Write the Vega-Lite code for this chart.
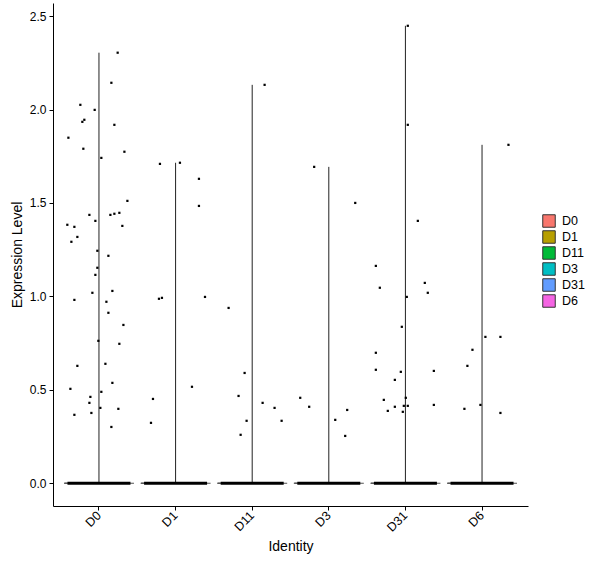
{
  "$schema": "https://vega.github.io/schema/vega-lite/v6.json",
  "width": 475,
  "height": 503,
  "autosize": {"type": "none"},
  "padding": {"left": 53, "top": 3, "right": 72, "bottom": 62},
  "background": "white",
  "config": {
    "font": "Liberation Sans",
    "view": {"stroke": null},
    "axis": {
      "grid": false,
      "domainColor": "black",
      "domainWidth": 1,
      "tickColor": "black",
      "tickSize": 4,
      "labelColor": "black",
      "labelFontSize": 12,
      "titleColor": "black",
      "titleFontSize": 14,
      "titleFontWeight": "normal"
    }
  },
  "datasets": {
    "idents": [
      {"ident": "D0"}, {"ident": "D1"}, {"ident": "D11"},
      {"ident": "D3"}, {"ident": "D31"}, {"ident": "D6"}
    ],
    "cells": [
      {"ident": "D0", "value": 2.304, "jit": 0.244},
      {"ident": "D0", "value": 2.143, "jit": 0.162},
      {"ident": "D0", "value": 2.025, "jit": -0.243},
      {"ident": "D0", "value": 1.998, "jit": -0.056},
      {"ident": "D0", "value": 1.945, "jit": -0.191},
      {"ident": "D0", "value": 1.934, "jit": -0.217},
      {"ident": "D0", "value": 1.918, "jit": 0.201},
      {"ident": "D0", "value": 1.849, "jit": -0.399},
      {"ident": "D0", "value": 1.790, "jit": -0.204},
      {"ident": "D0", "value": 1.774, "jit": 0.332},
      {"ident": "D0", "value": 1.741, "jit": 0.031},
      {"ident": "D0", "value": 1.511, "jit": 0.371},
      {"ident": "D0", "value": 1.436, "jit": -0.125},
      {"ident": "D0", "value": 1.436, "jit": 0.149},
      {"ident": "D0", "value": 1.442, "jit": 0.201},
      {"ident": "D0", "value": 1.447, "jit": 0.266},
      {"ident": "D0", "value": 1.404, "jit": -0.047},
      {"ident": "D0", "value": 1.383, "jit": -0.413},
      {"ident": "D0", "value": 1.372, "jit": -0.321},
      {"ident": "D0", "value": 1.377, "jit": 0.305},
      {"ident": "D0", "value": 1.318, "jit": -0.282},
      {"ident": "D0", "value": 1.292, "jit": -0.360},
      {"ident": "D0", "value": 1.244, "jit": -0.021},
      {"ident": "D0", "value": 1.217, "jit": 0.123},
      {"ident": "D0", "value": 1.153, "jit": -0.021},
      {"ident": "D0", "value": 1.115, "jit": -0.047},
      {"ident": "D0", "value": 1.019, "jit": -0.086},
      {"ident": "D0", "value": 1.029, "jit": 0.175},
      {"ident": "D0", "value": 0.981, "jit": -0.321},
      {"ident": "D0", "value": 0.971, "jit": 0.097},
      {"ident": "D0", "value": 0.912, "jit": 0.123},
      {"ident": "D0", "value": 0.847, "jit": 0.319},
      {"ident": "D0", "value": 0.762, "jit": -0.008},
      {"ident": "D0", "value": 0.746, "jit": 0.266},
      {"ident": "D0", "value": 0.628, "jit": -0.282},
      {"ident": "D0", "value": 0.639, "jit": 0.084},
      {"ident": "D0", "value": 0.505, "jit": -0.373},
      {"ident": "D0", "value": 0.537, "jit": 0.175},
      {"ident": "D0", "value": 0.462, "jit": -0.112},
      {"ident": "D0", "value": 0.489, "jit": 0.031},
      {"ident": "D0", "value": 0.430, "jit": -0.125},
      {"ident": "D0", "value": 0.403, "jit": 0.018},
      {"ident": "D0", "value": 0.398, "jit": 0.253},
      {"ident": "D0", "value": 0.366, "jit": -0.321},
      {"ident": "D0", "value": 0.376, "jit": -0.099},
      {"ident": "D0", "value": 0.301, "jit": 0.162},
      {"ident": "D1", "value": 1.709, "jit": -0.204},
      {"ident": "D1", "value": 1.715, "jit": 0.057},
      {"ident": "D1", "value": 1.629, "jit": 0.305},
      {"ident": "D1", "value": 1.484, "jit": 0.305},
      {"ident": "D1", "value": 0.987, "jit": -0.217},
      {"ident": "D1", "value": 0.992, "jit": -0.178},
      {"ident": "D1", "value": 0.997, "jit": 0.384},
      {"ident": "D1", "value": 0.516, "jit": 0.214},
      {"ident": "D1", "value": 0.451, "jit": -0.295},
      {"ident": "D1", "value": 0.323, "jit": -0.321},
      {"ident": "D11", "value": 2.132, "jit": 0.162},
      {"ident": "D11", "value": 0.938, "jit": -0.308},
      {"ident": "D11", "value": 0.590, "jit": -0.099},
      {"ident": "D11", "value": 0.467, "jit": -0.178},
      {"ident": "D11", "value": 0.334, "jit": -0.073},
      {"ident": "D11", "value": 0.259, "jit": -0.151},
      {"ident": "D11", "value": 0.430, "jit": 0.136},
      {"ident": "D11", "value": 0.403, "jit": 0.292},
      {"ident": "D11", "value": 0.334, "jit": 0.384},
      {"ident": "D3", "value": 1.693, "jit": -0.191},
      {"ident": "D3", "value": 1.500, "jit": 0.345},
      {"ident": "D3", "value": 0.457, "jit": -0.373},
      {"ident": "D3", "value": 0.409, "jit": -0.256},
      {"ident": "D3", "value": 0.339, "jit": 0.084},
      {"ident": "D3", "value": 0.392, "jit": 0.240},
      {"ident": "D3", "value": 0.253, "jit": 0.214},
      {"ident": "D31", "value": 2.448, "jit": 0.031},
      {"ident": "D31", "value": 1.918, "jit": 0.031},
      {"ident": "D31", "value": 1.404, "jit": 0.162},
      {"ident": "D31", "value": 1.163, "jit": -0.386},
      {"ident": "D31", "value": 1.046, "jit": -0.334},
      {"ident": "D31", "value": 1.072, "jit": 0.253},
      {"ident": "D31", "value": 1.019, "jit": 0.292},
      {"ident": "D31", "value": 0.997, "jit": 0.018},
      {"ident": "D31", "value": 0.837, "jit": -0.047},
      {"ident": "D31", "value": 0.698, "jit": -0.386},
      {"ident": "D31", "value": 0.607, "jit": -0.386},
      {"ident": "D31", "value": 0.596, "jit": -0.060},
      {"ident": "D31", "value": 0.601, "jit": 0.371},
      {"ident": "D31", "value": 0.553, "jit": -0.138},
      {"ident": "D31", "value": 0.446, "jit": -0.282},
      {"ident": "D31", "value": 0.457, "jit": 0.005},
      {"ident": "D31", "value": 0.409, "jit": -0.138},
      {"ident": "D31", "value": 0.414, "jit": -0.021},
      {"ident": "D31", "value": 0.414, "jit": 0.031},
      {"ident": "D31", "value": 0.387, "jit": -0.230},
      {"ident": "D31", "value": 0.382, "jit": -0.034},
      {"ident": "D31", "value": 0.419, "jit": 0.371},
      {"ident": "D6", "value": 1.811, "jit": 0.345},
      {"ident": "D6", "value": 0.783, "jit": 0.044},
      {"ident": "D6", "value": 0.783, "jit": 0.240},
      {"ident": "D6", "value": 0.714, "jit": -0.125},
      {"ident": "D6", "value": 0.628, "jit": -0.191},
      {"ident": "D6", "value": 0.398, "jit": -0.230},
      {"ident": "D6", "value": 0.419, "jit": -0.021},
      {"ident": "D6", "value": 0.376, "jit": 0.240}
    ]
  },
  "encoding": {
    "x": {
      "field": "ident",
      "type": "nominal",
      "sort": ["D0", "D1", "D11", "D3", "D31", "D6"],
      "scale": {"type": "band", "paddingInner": 0, "paddingOuter": 0.1},
      "title": "Identity",
      "axis": {
        "labelAngle": -45,
        "labelAlign": "right",
        "labelBaseline": "middle",
        "labelFontSize": 12.5,
        "labelPadding": 3,
        "titlePadding": 6
      }
    }
  },
  "layer": [
    {
      "data": {"name": "idents"},
      "mark": {"type": "bar", "width": {"band": 0.9}, "stroke": "#444444", "strokeWidth": 0.8},
      "encoding": {
        "y": {
          "datum": 0,
          "type": "quantitative",
          "scale": {"domain": [-0.122, 2.57], "nice": false, "zero": false},
          "title": "Expression Level",
          "axis": {"values": [0, 0.5, 1, 1.5, 2, 2.5], "format": ".1f", "labelPadding": 3, "titlePadding": 5}
        },
        "y2": {"datum": 0},
        "color": {
          "field": "ident",
          "type": "nominal",
          "scale": {
            "domain": ["D0", "D1", "D11", "D3", "D31", "D6"],
            "range": ["#F8766D", "#B79F00", "#00BA38", "#00BFC4", "#619CFF", "#F564E3"]
          },
          "legend": {
            "title": null,
            "orient": "none",
            "legendX": 489,
            "legendY": 211,
            "symbolType": "square",
            "symbolSize": 156,
            "symbolStrokeColor": "#333333",
            "symbolStrokeWidth": 1,
            "symbolOpacity": 1,
            "labelFontSize": 12.5,
            "labelColor": "black",
            "labelOffset": 6,
            "rowPadding": -3,
            "labelLimit": 60
          }
        }
      }
    },
    {
      "data": {"name": "idents"},
      "mark": {"type": "tick", "color": "#555555", "thickness": 1, "size": 70, "opacity": 1},
      "encoding": {
        "y": {"datum": 0, "type": "quantitative", "title": "Expression Level"}
      }
    },
    {
      "data": {"name": "cells"},
      "mark": {"type": "rule", "color": "#222222", "strokeWidth": 1},
      "encoding": {
        "y": {"aggregate": "max", "field": "value", "type": "quantitative", "title": "Expression Level"},
        "y2": {"datum": 0}
      }
    },
    {
      "data": {"name": "idents"},
      "mark": {"type": "tick", "color": "black", "thickness": 3, "size": 63, "opacity": 1},
      "encoding": {
        "y": {"datum": 0, "type": "quantitative", "title": "Expression Level"}
      }
    },
    {
      "data": {"name": "cells"},
      "mark": {"type": "point", "shape": "square", "filled": true, "size": 5, "color": "black", "opacity": 1},
      "encoding": {
        "y": {"field": "value", "type": "quantitative", "title": "Expression Level"},
        "xOffset": {"field": "jit", "type": "quantitative", "scale": {"domain": [-0.5, 0.5]}}
      }
    }
  ]
}
